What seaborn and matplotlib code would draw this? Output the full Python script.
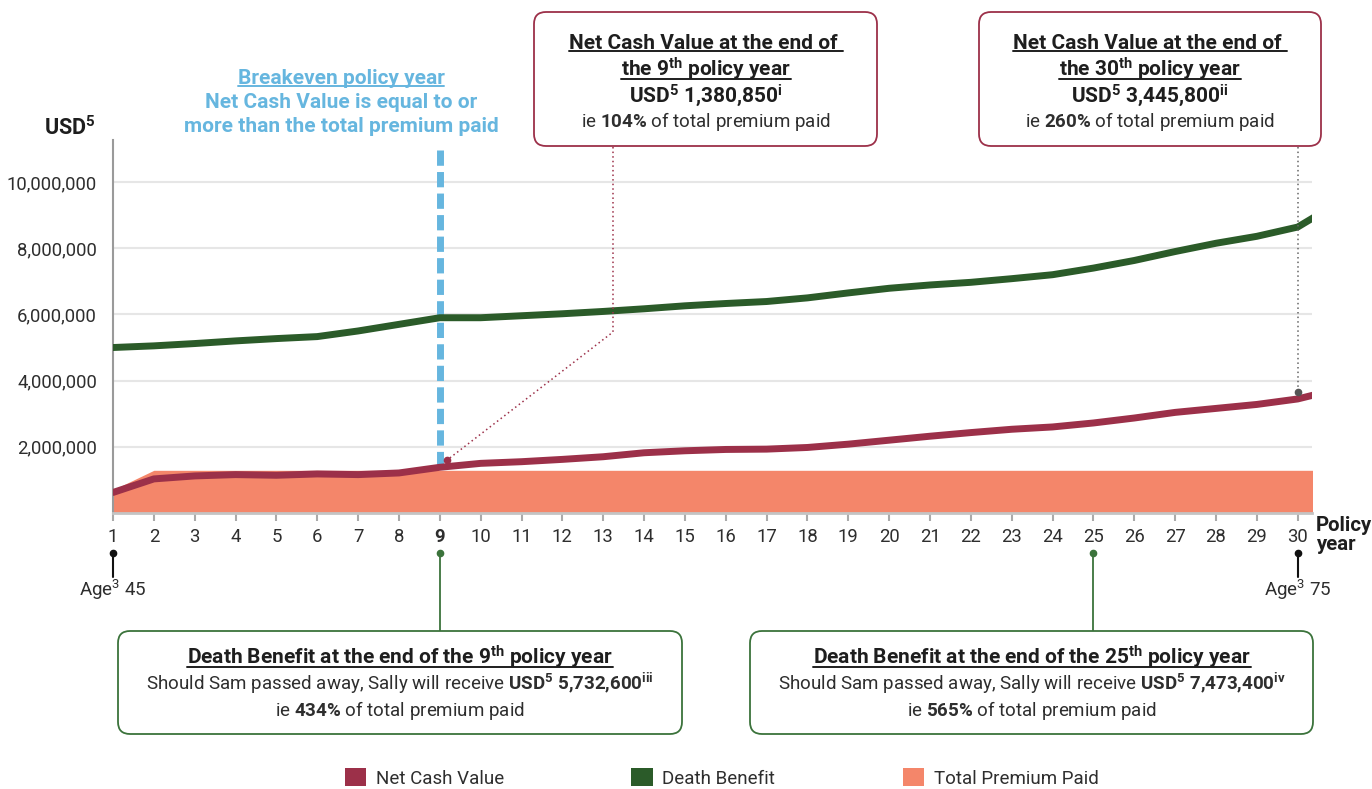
import numpy as np
import pandas as pd
import seaborn as sns
import matplotlib.pyplot as plt
from matplotlib.patches import FancyBboxPatch, Patch

# values (USD), policy years 1..31 (31 only shows as the clipped end)
years = list(range(1, 32))
net_cash_value = [620000, 1030000, 1120000, 1160000, 1140000, 1180000, 1160000, 1210000,
                  1380850, 1500000, 1550000, 1620000, 1700000, 1820000, 1880000, 1920000,
                  1930000, 1980000, 2080000, 2200000, 2320000, 2430000, 2530000, 2600000,
                  2720000, 2870000, 3040000, 3160000, 3280000, 3445800, 3750000]
death_benefit = [5000000, 5050000, 5120000, 5200000, 5270000, 5330000, 5500000, 5700000,
                 5900000, 5900000, 5960000, 6020000, 6090000, 6170000, 6260000, 6330000,
                 6390000, 6500000, 6650000, 6790000, 6890000, 6970000, 7080000, 7200000,
                 7400000, 7630000, 7900000, 8150000, 8360000, 8640000, 9380000]
total_premium = [700000, 1290000, 1290000, 1290000, 1290000, 1290000, 1290000, 1290000,
                 1290000, 1290000, 1290000, 1290000, 1290000, 1290000, 1290000, 1290000,
                 1290000, 1290000, 1290000, 1290000, 1290000, 1290000, 1290000, 1290000,
                 1290000, 1290000, 1290000, 1290000, 1290000, 1290000, 1290000]
x_ticks = list(range(1, 31))
y_ticks = [2000000, 4000000, 6000000, 8000000, 10000000]
series_names = ['Net Cash Value', 'Death Benefit', 'Total Premium Paid']

ncv_col = '#9c3049'
db_col = '#2b5b29'
prem_col = '#f4866a'
blue = '#66b6df'
green_ln = '#3b733b'
txt = '#1e1e1e'
grey_txt = '#2e2e2e'
W, H = 1372, 789

sns.set_theme(style='white')
plt.rcParams['font.family'] = ['Roboto', 'DejaVu Sans']
plt.rcParams['mathtext.fontset'] = 'custom'
plt.rcParams['mathtext.rm'] = 'Roboto'
plt.rcParams['mathtext.bf'] = 'Roboto:bold'
plt.rcParams['mathtext.default'] = 'regular'

df = pd.DataFrame({'year': years, 'Net Cash Value': net_cash_value,
                   'Death Benefit': death_benefit})
long = df.melt(id_vars='year', var_name='series', value_name='usd')

fig = plt.figure(figsize=(W / 100, H / 100), dpi=100)
ax = fig.add_axes([113 / W, 1 - 513 / H, 1199 / W, 373 / H])

ax.fill_between(years, total_premium, color=prem_col, lw=0, zorder=1)
sns.lineplot(data=long, x='year', y='usd', hue='series',
             palette={'Net Cash Value': ncv_col, 'Death Benefit': db_col},
             linewidth=5, legend=False, ax=ax, zorder=3)

ytop = 11270000
ax.set_xlim(1, 30.35)
ax.set_ylim(0, ytop)
ax.set_xlabel('')
ax.set_ylabel('')

# axes styling
ax.set_yticks(y_ticks)
ax.set_yticklabels([f'{v:,.0f}' for v in y_ticks])
ax.yaxis.grid(True, color='#e6e6e6', lw=1.5)
ax.xaxis.grid(False)
ax.set_axisbelow(True)
ax.set_xticks(x_ticks)
ax.set_xticklabels([str(v) for v in x_ticks])
for lab in ax.get_xticklabels():
    if lab.get_text() == '9':
        lab.set_fontweight('bold')
        lab.set_color('#111111')
ax.tick_params(axis='x', bottom=True, length=6, width=1.5, color='#aaaaaa',
               labelsize=13.3, labelcolor=grey_txt, pad=5)
ax.tick_params(axis='y', left=False, length=0, labelsize=13.3, labelcolor=grey_txt, pad=11.5)
for s in ['top', 'right']:
    ax.spines[s].set_visible(False)
ax.spines['left'].set_color('#9a9a9a')
ax.spines['left'].set_linewidth(1.5)
ax.spines['bottom'].set_color('#c4c4c4')
ax.spines['bottom'].set_linewidth(2)

# breakeven line
ax.plot([9, 9], [ytop * 0.973, net_cash_value[8]], color=blue, lw=5,
        dashes=(2.2, 0.9), solid_capstyle='butt', dash_capstyle='butt', zorder=2)

# overlay in pixel coordinates for the call-outs
ov = fig.add_axes([0, 0, 1, 1], zorder=5)
ov.set_xlim(0, W)
ov.set_ylim(H, 0)
ov.axis('off')
ov.patch.set_visible(False)
rend = fig.canvas.get_renderer()


def to_px(x, y):
    d = ax.transData.transform((x, y))
    return d[0], H - d[1]


def put(x, y, s, size=15, weight='normal', color=grey_txt, ha='center', underline=False):
    t = ov.text(x, y, s, fontsize=size, fontweight=weight, color=color, ha=ha,
                va='baseline', zorder=6)
    if underline:
        bb = t.get_window_extent(renderer=rend)
        ov.plot([bb.x0, bb.x1], [y + 2, y + 2], color=color, lw=1.4, zorder=6)
    return t


def box(x0, y0, x1, y1, ec):
    ov.add_patch(FancyBboxPatch((x0, y0), x1 - x0, y1 - y0,
                                boxstyle='round,pad=0,rounding_size=12',
                                fc='white', ec=ec, lw=1.3, zorder=4))


# axis captions
put(96, 134.5, 'USD$^{5}$', size=15.5, weight='bold', color=txt, ha='right')
put(1316, 531, 'Policy', size=14.7, weight='bold', color=txt, ha='left')
put(1316, 550, 'year', size=14.7, weight='bold', color=txt, ha='left')

# breakeven text
put(341, 83.5, 'Breakeven policy year', weight='bold', color=blue, underline=True)
put(341, 107.5, 'Net Cash Value is equal to or', weight='bold', color=blue)
put(341, 131.5, 'more than the total premium paid', weight='bold', color=blue)

# age markers
for yr, lab in [(1, 'Age$^{3}$ 45'), (30, 'Age$^{3}$ 75')]:
    px, _ = to_px(yr, 0)
    ov.plot([px, px], [553, 577], color='#111111', lw=1.5)
    ov.plot(px, 553, 'o', color='#111111', ms=4.5)
    put(px, 596, lab, size=13.5)

# net cash value call-outs
for cx, x0, x1, n, amt, sup, pct in [(706, 534, 877, '9', '1,380,850', 'i', '104'),
                                      (1150, 979, 1321, '30', '3,445,800', 'ii', '260')]:
    box(x0, 12, x1, 146, ncv_col)
    put(cx, 48.5, 'Net Cash Value at the end of ', weight='bold', color=txt, underline=True)
    put(cx, 76.5, 'the ' + n + '$^{th}$ policy year', weight='bold', color=txt, underline=True)
    put(cx, 102.5, 'USD$^{5}$ ' + amt + '$^{' + sup + '}$', weight='bold', color=txt)
    put(cx, 127, r'ie $\mathbf{' + pct + r'\%}$ of total premium paid', size=13.5)

dx, dy = to_px(9, net_cash_value[8])
dx, dy = dx + 7, dy - 7
ov.plot([613, 613, dx], [147, 332, dy], color=ncv_col, lw=1.1, ls=(0, (1, 2)))
ov.plot(dx, dy, 'o', color=ncv_col, ms=4.5)
ex, ey = to_px(30, net_cash_value[29])
ey = ey - 7
ov.plot([ex, ex], [147, ey], color='#666666', lw=1.1, ls=(0, (1, 2)))
ov.plot(ex, ey, 'o', color='#555555', ms=4.5)

# death benefit call-outs
for yr, cx, x0, x1, n, amt, pct, sup in [
        (9, 400, 118, 682, '9', '5{,}732{,}600', '434', 'iii'),
        (25, 1032, 750, 1313, '25', '7{,}473{,}400', '565', 'iv')]:
    px, _ = to_px(yr, 0)
    ov.plot([px, px], [553, 631], color=green_ln, lw=1.3)
    ov.plot(px, 553, 'o', color=green_ln, ms=4.5)
    box(x0, 631, x1, 734, green_ln)
    put(cx, 664.5, 'Death Benefit at the end of the ' + n + '$^{th}$ policy year',
        weight='bold', color=txt, underline=True)
    put(cx, 690, r'Should Sam passed away, Sally will receive $\mathbf{USD^{5}}$ $\mathbf{'
        + amt + '^{' + sup + '}}$', size=13.5)
    put(cx, 715.5, r'ie $\mathbf{' + pct + r'\%}$ of total premium paid', size=13.5)

# legend
handles = [Patch(facecolor=c, edgecolor='none') for c in [ncv_col, db_col, prem_col]]
leg = fig.legend(handles, series_names, loc='center', bbox_to_anchor=(0.526, 0.014),
                 ncol=3, frameon=False, fontsize=13.5, handlelength=1.15, handleheight=1.1,
                 handletextpad=0.5, columnspacing=6.8)
for t in leg.get_texts():
    t.set_color(grey_txt)

fig.savefig('out.png', dpi=100)
